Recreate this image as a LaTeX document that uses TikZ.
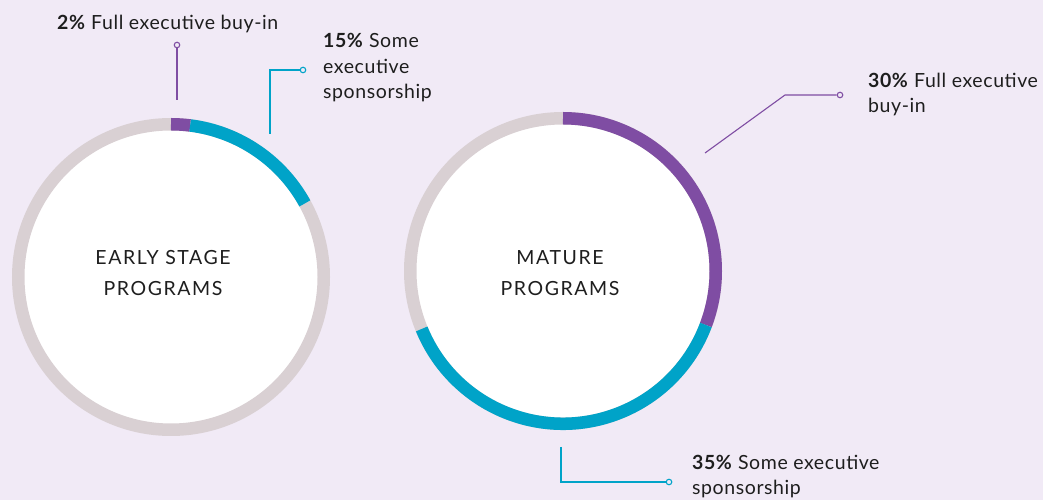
\documentclass[tikz,border=0pt]{standalone}
\usepackage{fontspec}
\setmainfont{Lato}[LetterSpace=3]
\newfontfamily\ringfont[LetterSpace=8]{Lato}
\usetikzlibrary{positioning}
\definecolor{bgcol}{HTML}{F1EAF6}
\definecolor{ringgray}{HTML}{D9D0D3}
\definecolor{fullcol}{HTML}{7F4DA3}
\definecolor{somecol}{HTML}{00A3C8}
\definecolor{txtcol}{HTML}{1E1E1E}

\begin{document}
\begin{tikzpicture}[x=1pt, y=1pt]
		%define styles
		\tikzset{
			ring/.style={line width=12.5pt, draw=ringgray},
			fullarc/.style={line width=12.5pt, draw=fullcol},
			somearc/.style={line width=12.5pt, draw=somecol},
			inner/.style={fill=white, draw=none},
			centre/.style={align=center, font=\ringfont\fontsize{19.5}{31}\selectfont, text=txtcol},
			label/.style={align=left, anchor=base west, inner sep=0pt, font=\fontsize{19.5}{25.5}\selectfont, text=txtcol},
			fullline/.style={draw=fullcol, line width=1.1pt},
			someline/.style={draw=somecol, line width=1.1pt},
			pin/.style={circle, draw, line width=1.1pt, fill=bgcol, inner sep=0pt, minimum size=5.5pt},
		}
		\useasboundingbox (0,0) rectangle (1043,500);
		\fill[bgcol] (0,0) rectangle (1043,500);
		%define rings
		\coordinate (early) at (171,223);
		\coordinate (mature) at (563,229);
		\fill[inner] (early) circle[radius=147];
		\fill[inner] (mature) circle[radius=147];
		\draw[ring] (early) circle[radius=152.75];
		\draw[ring] (mature) circle[radius=152.75];
		\draw[fullarc] (early) ++(90:152.75) arc[start angle=90, end angle=82.8, radius=152.75];
		\draw[somearc] (early) ++(82.8:152.75) arc[start angle=82.8, end angle=28.8, radius=152.75];
		\draw[fullarc] (mature) ++(90:152.75) arc[start angle=90, end angle=-20.7, radius=152.75];
		\draw[somearc] (mature) ++(-20.7:152.75) arc[start angle=-20.7, end angle=-157.7, radius=152.75];
		%define centre texts
		\node[centre] (earlytxt) at (163,227) {EARLY STAGE\\PROGRAMS};
		\node[centre] (maturetxt) at (560,227) {MATURE\\PROGRAMS};
		%define labels (base = last line)
		\node[label] (earlyfull) at (57,470) {\textbf{2\%} Full executive buy-in};
		\node[label] (earlysome) at (323,401) {\textbf{15\%} Some\\executive\\sponsorship};
		\node[label] (maturefull) at (868,387) {\textbf{30\%} Full executive\\buy-in};
		\node[label] (maturesome) at (692,5) {\textbf{35\%} Some executive\\sponsorship};
		%define pins
		\node[pin, draw=fullcol] (p1) at (177,455) {};
		\node[pin, draw=somecol] (p2) at (303,430) {};
		\node[pin, draw=fullcol] (p3) at (840,405) {};
		\node[pin, draw=somecol] (p4) at (669,18) {};
		\coordinate (e1) at (177,400);
		\coordinate (e2) at (270,366);
		\coordinate (e3) at (705,347);
		\coordinate (e4) at (561,53);
		%define connectors
		\draw[fullline] (e1) -- (p1);
		\draw[someline] (e2) |- (p2);
		\draw[fullline] (e3) -- (785,405) -- (p3);
		\draw[someline] (e4) |- (p4);
\end{tikzpicture}
\end{document}
